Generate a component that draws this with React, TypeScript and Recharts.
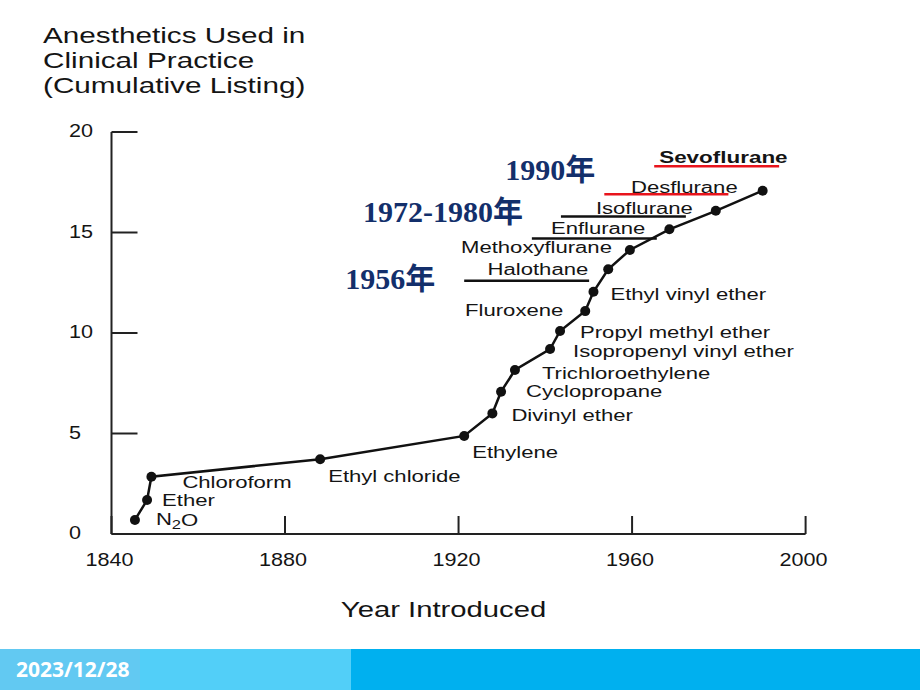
import { Line, LineChart, ReferenceLine, XAxis, YAxis, LabelList } from 'recharts'

const agents = [
  'N2O', 'Ether', 'Chloroform', 'Ethyl chloride', 'Ethylene', 'Divinyl ether',
  'Cyclopropane', 'Trichloroethylene', 'Isopropenyl vinyl ether', 'Propyl methyl ether',
  'Fluroxene', 'Ethyl vinyl ether', 'Halothane', 'Methoxyflurane', 'Enflurane',
  'Isoflurane', 'Desflurane',
]
const yearIntroduced = [
  1845.4, 1848.2, 1849.2, 1888.1, 1921.3, 1927.8, 1929.8, 1933.0, 1941.1,
  1943.4, 1949.2, 1951.1, 1954.5, 1959.5, 1968.6, 1979.3, 1990.1,
]
const cumulative = [
  0.7, 1.69, 2.85, 3.72, 4.88, 6.0, 7.08, 8.16, 9.2,
  10.1, 11.09, 12.05, 13.17, 14.13, 15.16, 16.08, 17.08,
]
const xTicks = [1840, 1880, 1920, 1960, 2000]
const yTicks = [0, 5, 10, 15, 20]

// underlines drawn over the figure
const markText = ['1956年', '', '1972-1980年', '1990年', 'Sevoflurane']
const markFrom = [1921.3, 1936.9, 1943.6, 1953.6, 1965.1]
const markTo = [1950.1, 1965.7, 1972.4, 1982.2, 1993.9]
const markLevel = [12.6, 14.7, 15.8, 16.9, 18.3]

const data = agents.map((name, i) => ({ name, year: yearIntroduced[i], count: cumulative[i] }))

// label placement next to each dot: dx, dy, anchor
const labelPos: [number, number, 'start' | 'end'][] = [
  [21, 0, 'start'], [15, 1, 'start'], [31, 6, 'start'], [8, 17, 'start'],
  [8, 17, 'start'], [19, 2, 'start'], [25, 0, 'start'], [27, 4, 'start'],
  [23, 3, 'start'], [20, 2, 'start'], [-22, 0, 'end'], [17, 3, 'start'],
  [-20, 0, 'end'], [-18, -2, 'end'], [-24, -1, 'end'], [-23, -2, 'end'],
  [-25, -3, 'end'],
]
const markPos: [number, number, 'start' | 'end'][] = [
  [-29, -2, 'end'], [0, 0, 'start'], [-38, -5, 'end'], [-9, -25, 'end'], [5, -9, 'start'],
]
const markColor = ['#111', '#111', '#111', '#e8141c', '#e8141c']

const SX = 1.38
const sans = '"Liberation Sans", Arial, sans-serif'
const ink = '#141414'

function Stretched({ x, y, anchor = 'start', size = 16, weight = 400, sx = SX, children }: any) {
  return (
    <text
      transform={`translate(${x} ${y}) scale(${sx} 1)`}
      textAnchor={anchor}
      dominantBaseline="central"
      fontFamily={sans}
      fontSize={size}
      fontWeight={weight}
      fill={ink}
    >
      {children}
    </text>
  )
}

function PointLabel(props: any) {
  const { x, y, index, value } = props
  const [dx, dy, anchor] = labelPos[index]
  if (value === 'N2O') {
    return (
      <Stretched x={x + dx} y={y + dy} anchor={anchor}>
        N<tspan dy={5} fontSize={12}>2</tspan><tspan dy={-5}>O</tspan>
      </Stretched>
    )
  }
  return <Stretched x={x + dx} y={y + dy} anchor={anchor}>{value}</Stretched>
}

function markLabel(i: number) {
  return (props: any) => {
    const vb = props.viewBox
    const text = markText[i]
    if (!text || !vb) return null
    const [dx, dy, anchor] = markPos[i]
    if (text === 'Sevoflurane') {
      return (
        <Stretched x={vb.x + dx} y={vb.y + dy} anchor={anchor} weight={700} size={17} sx={1.32}>
          {text}
        </Stretched>
      )
    }
    return (
      <text
        x={vb.x + dx}
        y={vb.y + dy}
        textAnchor={anchor}
        dominantBaseline="central"
        fontFamily='"Liberation Serif", "Times New Roman", "Noto Sans CJK SC", serif'
        fontWeight={700}
        fontSize={30}
        fill="#132f6b"
      >
        {text}
      </text>
    )
  }
}

function XTick(props: any) {
  const { x, y, payload } = props
  return <Stretched x={x - 2} y={y} anchor="middle" size={18} sx={1.2}>{payload.value}</Stretched>
}

function YTick(props: any) {
  const { x, y, payload } = props
  return <Stretched x={x} y={y - 1} anchor="start" size={18} sx={1.2}>{payload.value}</Stretched>
}

function XLabel(props: any) {
  const vb = props.viewBox
  if (!vb) return null
  return (
    <Stretched x={vb.x + vb.width / 2 - 15} y={vb.y + 75} anchor="middle" size={22} sx={1.33}>
      Year Introduced
    </Stretched>
  )
}

export default function App() {
  return (
    <div style={{ position: 'absolute', left: 0, top: 0, width: 920, height: 690, background: '#fff' }}>
      <LineChart
        width={920}
        height={690}
        data={data}
        margin={{ top: 132, right: 114.4, bottom: 126, left: 61.5 }}
      >
        <XAxis
          dataKey="year"
          type="number"
          domain={[1840, 2000]}
          ticks={xTicks}
          allowDataOverflow
          height={30}
          stroke="#222"
          strokeWidth={2}
          tickSize={-18}
          tickMargin={44}
          tick={<XTick />}
          label={<XLabel />}
        />
        <YAxis
          type="number"
          domain={[0, 20]}
          ticks={yTicks}
          width={50}
          stroke="#222"
          strokeWidth={2}
          tickSize={-26}
          tickMargin={68.5}
          tick={<YTick />}
        />
        {markText.map((_, i) => (
          <ReferenceLine
            key={i}
            segment={[
              { x: markFrom[i], y: markLevel[i] },
              { x: markTo[i], y: markLevel[i] },
            ]}
            stroke={markColor[i]}
            strokeWidth={2.5}
            ifOverflow="visible"
            label={markLabel(i)}
          />
        ))}
        <Line
          type="linear"
          dataKey="count"
          stroke="#111"
          strokeWidth={2.5}
          dot={{ r: 5, fill: '#111', stroke: '#111', strokeWidth: 0 }}
          isAnimationActive={false}
        >
          <LabelList dataKey="name" content={<PointLabel />} />
        </Line>
      </LineChart>
      <svg
        width={920}
        height={110}
        style={{ position: 'absolute', left: 0, top: 0, pointerEvents: 'none' }}
      >
        <Stretched x={43} y={35} size={22} sx={1.35}>Anesthetics Used in</Stretched>
        <Stretched x={43} y={60} size={22} sx={1.35}>Clinical Practice</Stretched>
        <Stretched x={43} y={85} size={22} sx={1.35}>(Cumulative Listing)</Stretched>
      </svg>
      <div style={{ position: 'absolute', left: 0, top: 649, width: 920, height: 41, background: '#00b0ef' }} />
      <div style={{ position: 'absolute', left: 140, top: 649, width: 211, height: 41, background: '#52cff8' }} />
      <div
        style={{
          position: 'absolute',
          left: 0,
          top: 649,
          width: 140,
          height: 41,
          background: '#62c9f2',
          color: '#fff',
          fontFamily: '"Noto Sans", sans-serif',
          fontWeight: 700,
          fontSize: 21,
          lineHeight: '41px',
          paddingLeft: 16,
          boxSizing: 'border-box',
        }}
      >
        2023/12/28
      </div>
    </div>
  )
}
